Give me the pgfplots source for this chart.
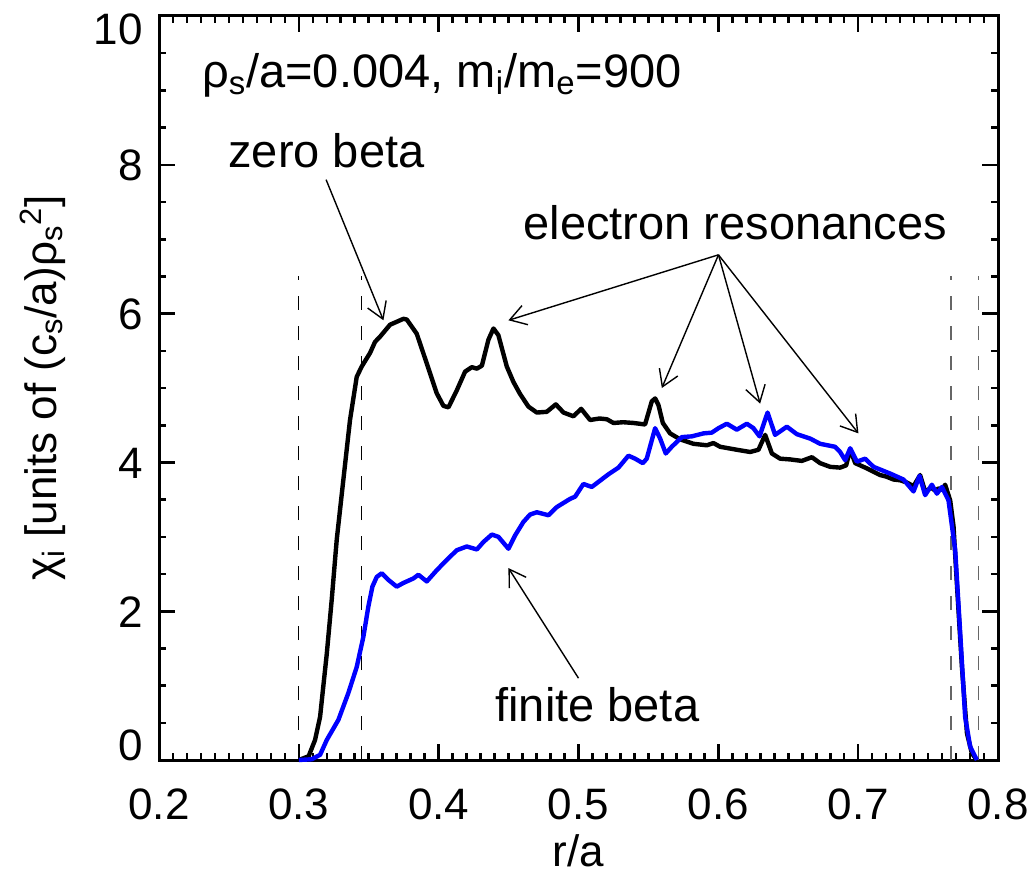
\documentclass[border=0pt]{standalone}
\usepackage{pgfplots}
\pgfplotsset{compat=1.18}
\usepackage{pgfplotstable}
\usepackage{fontspec}
\setmainfont{Liberation Sans}
\usetikzlibrary{arrows.meta}
\newcommand\tfont{\fontsize{22}{26}\selectfont}
\newcommand\afont{\fontsize{23.5}{28}\selectfont}

\pgfplotstableread{
x y
0.3000 0.00
0.3070 0.05
0.3116 0.27
0.3152 0.58
0.3175 0.99
0.3200 1.43
0.3235 2.15
0.3271 2.96
0.3318 3.76
0.3366 4.57
0.3414 5.15
0.3450 5.29
0.3509 5.47
0.3545 5.62
0.3581 5.69
0.3652 5.85
0.3748 5.93
0.3772 5.92
0.3843 5.73
0.3915 5.33
0.3986 4.93
0.4034 4.76
0.4070 4.74
0.4130 4.97
0.4189 5.22
0.4237 5.28
0.4273 5.26
0.4309 5.30
0.4356 5.65
0.4392 5.80
0.4427 5.71
0.4487 5.29
0.4535 5.08
0.4582 4.92
0.4642 4.75
0.4702 4.67
0.4773 4.68
0.4838 4.78
0.4893 4.67
0.4964 4.62
0.5019 4.72
0.5083 4.57
0.5150 4.59
0.5203 4.58
0.5250 4.53
0.5320 4.54
0.5393 4.53
0.5476 4.51
0.5524 4.82
0.5548 4.86
0.5572 4.77
0.5603 4.53
0.5655 4.39
0.5727 4.31
0.5822 4.25
0.5918 4.23
0.5965 4.26
0.6013 4.21
0.6132 4.17
0.6227 4.14
0.6287 4.17
0.6335 4.37
0.6383 4.12
0.6442 4.05
0.6514 4.04
0.6597 4.02
0.6669 4.07
0.6728 3.99
0.6800 3.94
0.6871 3.93
0.6914 3.96
0.6943 4.17
0.6979 3.99
0.7062 3.92
0.7157 3.83
0.7200 3.81
0.7253 3.77
0.7300 3.76
0.7348 3.73
0.7396 3.68
0.7443 3.83
0.7479 3.61
0.7527 3.66
0.7550 3.62
0.7575 3.65
0.7600 3.63
0.7622 3.70
0.7658 3.49
0.7682 3.14
0.7706 2.37
0.7742 1.25
0.7778 0.36
0.7813 0.09
0.7849 0.00
}\zerobeta

\pgfplotstableread{
x y
0.3000 0.00
0.3092 0.01
0.3152 0.07
0.3200 0.27
0.3283 0.54
0.3354 0.90
0.3414 1.25
0.3462 1.66
0.3497 2.06
0.3526 2.33
0.3557 2.46
0.3593 2.51
0.3641 2.42
0.3700 2.33
0.3748 2.38
0.3819 2.44
0.3855 2.49
0.3915 2.40
0.3986 2.55
0.4058 2.69
0.4130 2.82
0.4201 2.87
0.4273 2.83
0.4320 2.93
0.4380 3.03
0.4427 3.00
0.4499 2.84
0.4547 3.02
0.4606 3.20
0.4654 3.30
0.4702 3.33
0.4785 3.29
0.4845 3.40
0.4940 3.51
0.4976 3.54
0.5035 3.71
0.5095 3.67
0.5214 3.84
0.5286 3.93
0.5357 4.09
0.5405 4.05
0.5460 3.99
0.5488 4.05
0.5548 4.46
0.5584 4.32
0.5624 4.12
0.5667 4.21
0.5739 4.34
0.5810 4.35
0.5894 4.39
0.5953 4.40
0.6001 4.46
0.6061 4.52
0.6132 4.44
0.6204 4.52
0.6251 4.46
0.6295 4.35
0.6352 4.67
0.6406 4.37
0.6490 4.48
0.6561 4.38
0.6657 4.32
0.6728 4.25
0.6835 4.21
0.6871 4.14
0.6907 4.03
0.6943 4.19
0.6991 4.01
0.7050 4.05
0.7110 3.94
0.7229 3.85
0.7324 3.77
0.7396 3.61
0.7439 3.82
0.7479 3.56
0.7527 3.70
0.7563 3.58
0.7599 3.67
0.7646 3.49
0.7694 2.82
0.7730 1.70
0.7765 0.58
0.7801 0.18
0.7849 0.00
}\finitebeta

\begin{document}
\begin{tikzpicture}
\begin{axis}[
  name=ax, at={(0,0)}, anchor=south west,
  scale only axis, width=419.5pt, height=372pt,
  xmin=0.2, xmax=0.8, ymin=0, ymax=10,
  xtick={0.2,0.3,0.4,0.5,0.6,0.7,0.8},
  xticklabels={0.2,0.3,0.4,0.5,0.6,0.7,0.8},
  ytick={0,2,4,6,8,10},
  yticklabels={\raisebox{7.5pt}{0},2,4,6,8,\raisebox{-6.5pt}{10}},
  minor x tick num=9, minor y tick num=3,
  major tick length=8pt, minor tick length=3.5pt,
  tick align=inside,
  every tick/.style={line width=1.3pt, black},
  axis line style={line width=1.5pt},
  xticklabel style={font=\tfont, anchor=north, inner sep=0pt, yshift=-14pt},
  yticklabel style={font=\tfont, anchor=base east, inner sep=0pt, xshift=-8pt, yshift=-7.9pt},
  clip=false,
]
\addplot[black, line width=0.6pt, dash pattern=on 7pt off 8pt] coordinates {(0.3,0) (0.3,6.5)};
\addplot[black, line width=0.6pt, dash pattern=on 7pt off 8pt] coordinates {(0.345,0) (0.345,6.5)};
\addplot[black!60, line width=0.7pt, dash pattern=on 7pt off 8pt] coordinates {(0.7665,0) (0.7665,6.5)};
\addplot[black!60, line width=0.7pt, dash pattern=on 7pt off 8pt] coordinates {(0.786,0) (0.786,6.5)};

\addplot[black, line width=2.2pt, line join=round] table[x=x,y=y] {\zerobeta};
\addplot[blue, line width=2.2pt, line join=round] table[x=x,y=y] {\finitebeta};

\node[anchor=base west, font=\afont, inner sep=0pt] at (axis cs:0.2305,9.04)
  {ρ\textsubscript{s}/a=0.004, m\textsubscript{i}/m\textsubscript{e}=900};
\node[anchor=base west, font=\afont, inner sep=0pt] at (axis cs:0.2494,7.96) {zero beta};
\node[anchor=base west, font=\afont, inner sep=0pt] at (axis cs:0.4604,6.99) {electron resonances};
\node[anchor=base west, font=\afont, inner sep=0pt] at (axis cs:0.4403,0.515) {finite beta};

\draw[line width=0.7pt, -{Straight Barb[length=8pt,width=10pt]}] (axis cs:0.3195,7.80) -- (axis cs:0.3605,5.91);
\draw[line width=0.7pt, -{Straight Barb[length=8pt,width=10pt]}] (axis cs:0.6001,6.79) -- (axis cs:0.4499,5.91);
\draw[line width=0.7pt, -{Straight Barb[length=8pt,width=10pt]}] (axis cs:0.6001,6.79) -- (axis cs:0.5596,5.00);
\draw[line width=0.7pt, -{Straight Barb[length=8pt,width=10pt]}] (axis cs:0.6001,6.79) -- (axis cs:0.6299,4.79);
\draw[line width=0.7pt, -{Straight Barb[length=8pt,width=10pt]}] (axis cs:0.6001,6.79) -- (axis cs:0.7002,4.39);
\draw[line width=0.7pt, -{Straight Barb[length=8pt,width=10pt]}] (axis cs:0.5000,1.10) -- (axis cs:0.4499,2.58);
\end{axis}
\node[anchor=base, font=\tfont] at ([yshift=-53pt]ax.south) {r/a};
\node[rotate=90, font=\tfont] at ([xshift=-58pt]ax.west)
  {χ\textsubscript{i} [units of (c\textsubscript{s}/a)ρ\textsubscript{s}\textsuperscript{2}]};
\pgfresetboundingbox
\path (-79.5pt,-57pt) rectangle (437pt,380pt);
\end{tikzpicture}
\end{document}
